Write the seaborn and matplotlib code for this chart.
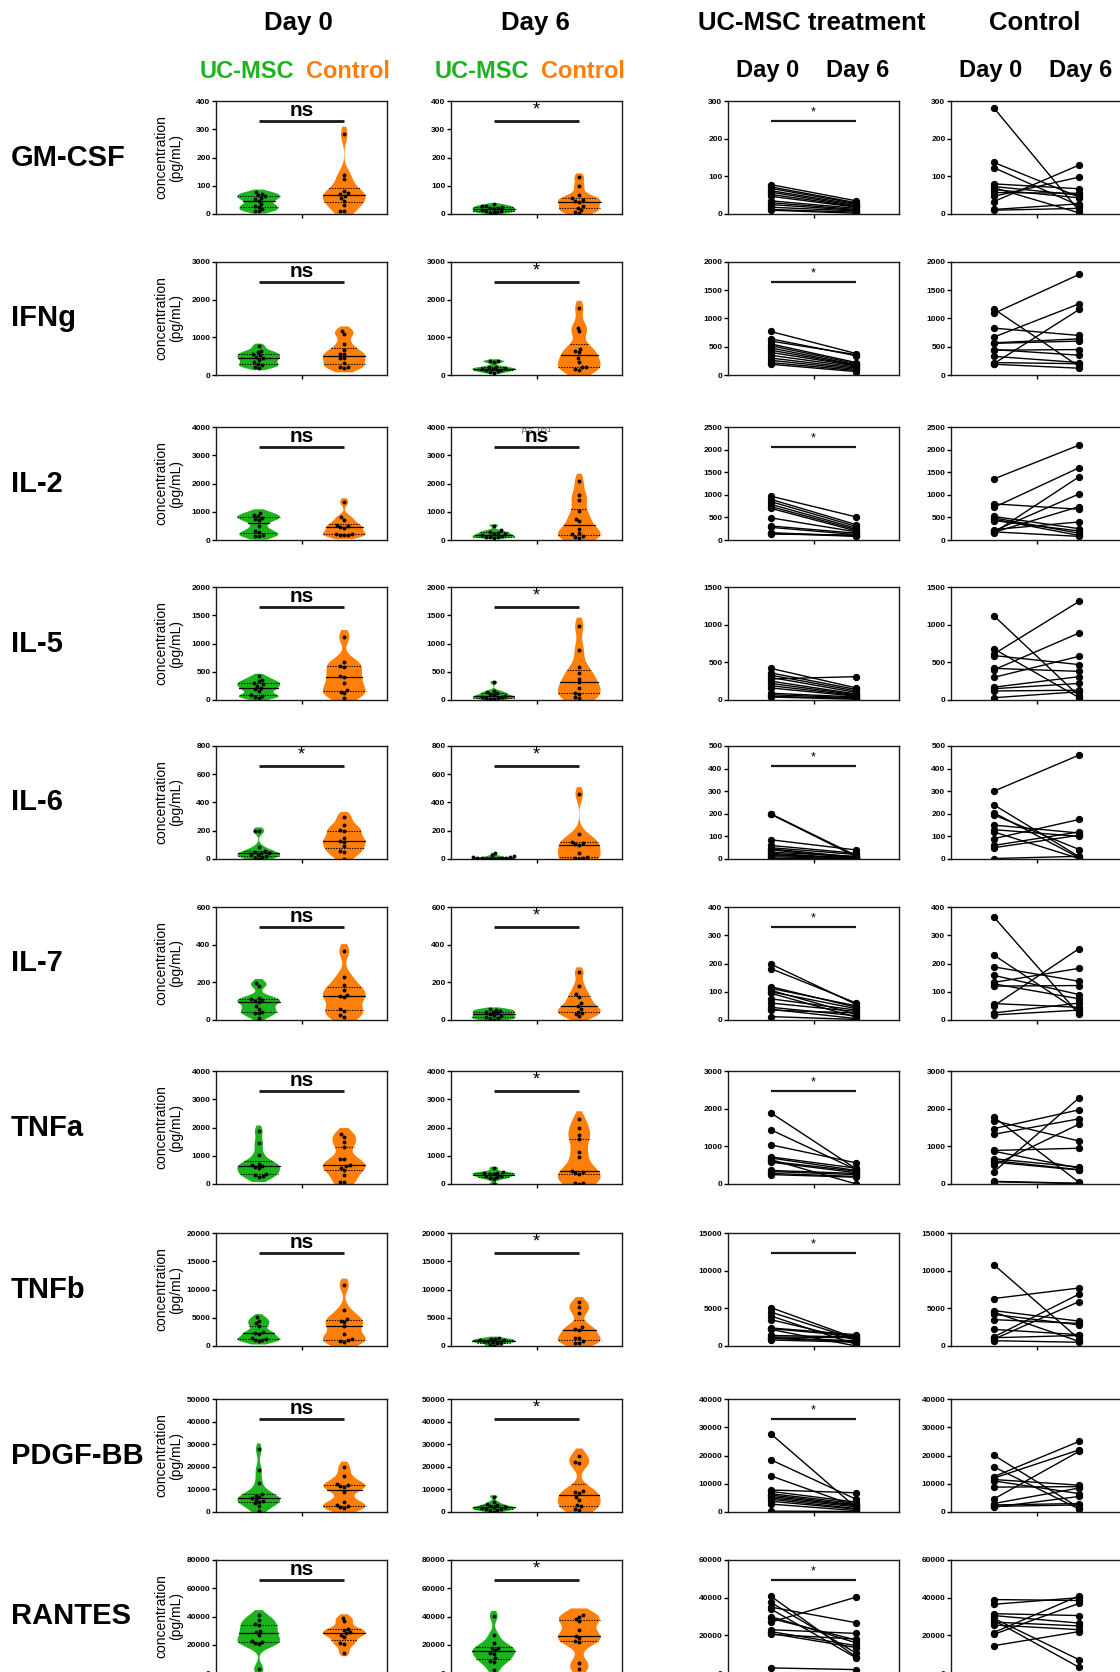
import numpy as np
import pandas as pd
import matplotlib
matplotlib.use("Agg")
from matplotlib import pyplot as plt
import seaborn as sns

cytokines = ["GM-CSF", "IFNg", "IL-2", "IL-5", "IL-6", "IL-7", "TNFa", "TNFb", "PDGF-BB", "RANTES"]

# UC-MSC group, paired by patient (day 0 -> day 6)
msc_day0 = [
    [78, 72, 68, 62, 58, 52, 47, 35, 30, 25, 18, 12, 10],
    [770, 640, 600, 550, 520, 480, 440, 400, 350, 300, 260, 220, 190],
    [970, 900, 850, 790, 740, 700, 490, 310, 280, 160, 130, 150],
    [420, 360, 330, 300, 280, 250, 220, 190, 160, 90, 70, 50, 40],
    [200, 198, 85, 60, 50, 45, 40, 30, 25, 20, 15, 10, 3],
    [198, 182, 118, 112, 105, 100, 95, 75, 60, 45, 38, 35, 12],
    [1890, 1440, 1040, 720, 690, 650, 600, 580, 360, 330, 280, 250],
    [5100, 4500, 4000, 3500, 2400, 2300, 2200, 1400, 1200, 1100, 1000, 800],
    [27700, 18500, 12800, 7800, 7300, 6500, 6000, 5500, 5000, 4500, 3800, 2800, 300],
    [40800, 37500, 35000, 34000, 30000, 29000, 27000, 23000, 22000, 21000, 20500, 2700],
]
msc_day6 = [
    [35, 30, 28, 25, 22, 20, 18, 15, 12, 10, 8, 5, 2],
    [380, 340, 360, 220, 200, 180, 170, 160, 140, 120, 100, 80, 60],
    [510, 340, 300, 260, 230, 200, 180, 150, 120, 90, 110, 80],
    [160, 140, 120, 100, 310, 80, 70, 60, 50, 40, 30, 20, 10],
    [15, 10, 40, 25, 20, 8, 5, 12, 3, 2, 6, 1, 0],
    [55, 60, 45, 50, 20, 40, 10, 35, 30, 15, 5, 25, 2],
    [400, 380, 560, 420, 360, 0, 340, 300, 280, 250, 200, 180],
    [1000, 900, 200, 800, 1500, 1300, 0, 1200, 1100, 700, 600, 500],
    [1500, 4500, 2000, 6800, 3500, 3000, 2500, 2200, 1800, 1200, 1000, 500, 200],
    [8500, 10500, 26700, 8000, 16000, 17500, 40300, 21000, 14500, 13500, 18000, 1800],
]
# Control group, paired by patient
ctl_day0 = [
    [282, 137, 123, 80, 73, 65, 57, 47, 33, 12, 10, 70],
    [1170, 1090, 830, 670, 570, 560, 450, 440, 330, 220, 200, 190],
    [1350, 800, 720, 520, 490, 460, 430, 230, 200, 170, 160, 180],
    [1120, 680, 610, 590, 420, 400, 300, 170, 150, 120, 30],
    [300, 240, 205, 195, 150, 130, 120, 90, 60, 50, 2],
    [365, 230, 188, 158, 133, 128, 120, 58, 50, 25, 18],
    [1780, 1680, 1470, 1320, 890, 870, 670, 620, 580, 500, 320, 70, 60],
    [10800, 6300, 4700, 4500, 4200, 3500, 2200, 1200, 1100, 900, 700],
    [20100, 16000, 12500, 12000, 4600, 11500, 11000, 8800, 3000, 2500, 2000, 1700],
    [39000, 36500, 31500, 30500, 29000, 28000, 27000, 25500, 21500, 20500, 14500],
]
ctl_day6 = [
    [8, 45, 22, 67, 50, 43, 55, 98, 130, 27, 15, 3],
    [150, 1780, 700, 1260, 640, 600, 350, 450, 220, 200, 1160, 120],
    [2100, 680, 1600, 250, 150, 100, 200, 400, 1020, 740, 1400, 80],
    [50, 30, 1310, 470, 380, 890, 580, 310, 220, 130, 110],
    [460, 10, 5, 42, 115, 100, 2, 175, 120, 105, 12],
    [20, 30, 137, 90, 183, 75, 122, 45, 253, 60, 35],
    [40, 1140, 1970, 1730, 950, 420, 450, 380, 370, 1590, 2290, 20, 10],
    [900, 7700, 3300, 600, 2800, 3000, 1500, 6900, 1400, 5900, 500],
    [1500, 1000, 25000, 22000, 21500, 9500, 6500, 9000, 8500, 3000, 2500, 5500],
    [38500, 40000, 30500, 26500, 7000, 3000, 25000, 23000, 41000, 37000, 22000],
]

sig_day0 = ["ns", "ns", "ns", "ns", "*", "ns", "ns", "ns", "ns", "ns"]
sig_day6 = ["*", "*", "ns", "*", "*", "*", "*", "*", "*", "*"]
sig_msc = ["*", "*", "*", "", "*", "*", "*", "*", "*", "*"]

violin_ymax = [400, 3000, 4000, 2000, 800, 600, 4000, 20000, 50000, 80000]
violin_step = [100, 1000, 1000, 500, 200, 200, 1000, 5000, 10000, 20000]
paired_ymax = [300, 2000, 2500, 1500, 500, 400, 3000, 15000, 40000, 60000]
paired_step = [100, 500, 500, 500, 100, 100, 1000, 5000, 10000, 20000]

GREEN = "#1db31d"
ORANGE = "#ff7f0a"

sns.set_style("ticks")
plt.rcParams["font.family"] = ["Liberation Sans", "DejaVu Sans"]
plt.rcParams["text.color"] = "black"
plt.rcParams["xtick.color"] = "black"
plt.rcParams["ytick.color"] = "black"

W, H = 1120, 1672
fig = plt.figure(figsize=(W / 100, H / 100), dpi=100)

col_x = [216, 451, 728, 951]
col_w = 171
row_top = [101, 262, 427, 587, 746, 907, 1071, 1233, 1399, 1560]
row_h = 113


def make_ax(x, top, w, h):
    return fig.add_axes([x / W, 1 - (top + h) / H, w / W, h / H])


def style_ax(ax, ymax, step):
    ax.set_xlim(-0.5, 1.5)
    ax.set_ylim(0, ymax)
    ax.set_yticks(np.arange(0, ymax + 1, step))
    ax.set_xticks([0.5])
    ax.set_xticklabels([""])
    ax.set_xlabel("")
    ax.set_ylabel("")
    for s in ax.spines.values():
        s.set_visible(True)
        s.set_linewidth(1.0)
        s.set_color("#1a1a1a")
    ax.tick_params(axis="both", length=3, width=1, pad=1, labelsize=6)
    for lab in ax.get_yticklabels():
        lab.set_fontweight("bold")


def violin_panel(ax, a, b, ymax, step, sig, pnote=None):
    df = pd.DataFrame({"group": ["UC-MSC"] * len(a) + ["Control"] * len(b),
                       "value": list(a) + list(b)})
    sns.violinplot(data=df, x="group", y="value", hue="group", order=["UC-MSC", "Control"],
                   hue_order=["UC-MSC", "Control"], palette=[GREEN, ORANGE], inner="quart",
                   density_norm="width", width=0.5, bw_adjust=0.6, cut=1, linewidth=0,
                   saturation=1, legend=False, inner_kws=dict(color="black", linewidth=0.8), ax=ax)
    # median solid, quartiles dotted
    for i, ln in enumerate(ax.lines):
        if i % 3 == 1:
            ln.set_linestyle("-")
            ln.set_linewidth(0.9)
        else:
            ln.set_linestyle((0, (1.2, 1.2)))
            ln.set_linewidth(0.8)
    for coll in ax.collections:
        coll.set_edgecolor("none")
    sns.swarmplot(data=df, x="group", y="value", order=["UC-MSC", "Control"], color="black",
                  size=2.8, ax=ax)
    style_ax(ax, ymax, step)
    ly = 0.825 * ymax
    ax.plot([0, 1], [ly, ly], color="#1a1a1a", lw=2.0, solid_capstyle="butt")
    if sig == "ns":
        ax.text(0.5, ly + 0.01 * ymax, "ns", ha="center", va="bottom", fontsize=15,
                fontweight="bold")
    else:
        ax.text(0.5, ly + 0.02 * ymax, "*", ha="center", va="bottom", fontsize=13)
    if pnote:
        ax.text(0.5, 1.0 * ymax, pnote, ha="center", va="top", fontsize=6,
                fontstyle="italic", color="#444444")


def paired_panel(ax, a, b, ymax, step, sig):
    n = len(a)
    df = pd.DataFrame({"pid": list(range(n)) * 2, "day": [0] * n + [1] * n,
                       "value": list(a) + list(b)})
    sns.lineplot(data=df, x="day", y="value", units="pid", estimator=None, color="black",
                 marker="o", markersize=4.5, markeredgecolor="black", linewidth=1.0, ax=ax)
    style_ax(ax, ymax, step)
    if sig:
        ly = 0.82 * ymax
        ax.plot([0, 1], [ly, ly], color="#1a1a1a", lw=1.6, solid_capstyle="butt")
        ax.text(0.5, ly + 0.03 * ymax, "*", ha="center", va="bottom", fontsize=9)


for r, name in enumerate(cytokines):
    top = row_top[r]
    ax0 = make_ax(col_x[0], top, col_w, row_h)
    violin_panel(ax0, msc_day0[r], ctl_day0[r], violin_ymax[r], violin_step[r], sig_day0[r])
    ax1 = make_ax(col_x[1], top, col_w, row_h)
    note = "p = .051" if name == "IL-2" else None
    violin_panel(ax1, msc_day6[r], ctl_day6[r], violin_ymax[r], violin_step[r], sig_day6[r], note)
    ax2 = make_ax(col_x[2], top, col_w, row_h)
    paired_panel(ax2, msc_day0[r], msc_day6[r], paired_ymax[r], paired_step[r], sig_msc[r])
    ax3 = make_ax(col_x[3], top, col_w, row_h)
    paired_panel(ax3, ctl_day0[r], ctl_day6[r], paired_ymax[r], paired_step[r], "")

    yc = 1 - (top + row_h / 2) / H
    fig.text(11 / W, yc, name, ha="left", va="center", fontsize=21, fontweight="bold")
    fig.text(169 / W, yc, "concentration\n(pg/mL)", ha="center", va="center", rotation=90,
             fontsize=10, linespacing=1.05)

# column headers
hy = 1 - 23 / H
sy = 1 - 71 / H
fig.text(298 / W, hy, "Day 0", ha="center", va="center", fontsize=18.5, fontweight="bold")
fig.text(535 / W, hy, "Day 6", ha="center", va="center", fontsize=18.5, fontweight="bold")
fig.text(812 / W, hy, "UC-MSC treatment", ha="center", va="center", fontsize=18.5, fontweight="bold")
fig.text(1035 / W, hy, "Control", ha="center", va="center", fontsize=18.5, fontweight="bold")

for cx in [col_x[0], col_x[1]]:
    fig.text((cx + 31) / W, sy, "UC-MSC", ha="center", va="center", fontsize=17,
             fontweight="bold", color=GREEN)
    fig.text((cx + 132) / W, sy, "Control", ha="center", va="center", fontsize=17,
             fontweight="bold", color=ORANGE)
for cx in [col_x[2], col_x[3]]:
    fig.text((cx + 40) / W, sy, "Day 0", ha="center", va="center", fontsize=17, fontweight="bold")
    fig.text((cx + 130) / W, sy, "Day 6", ha="center", va="center", fontsize=17, fontweight="bold")

fig.savefig("out.png", dpi=100)
